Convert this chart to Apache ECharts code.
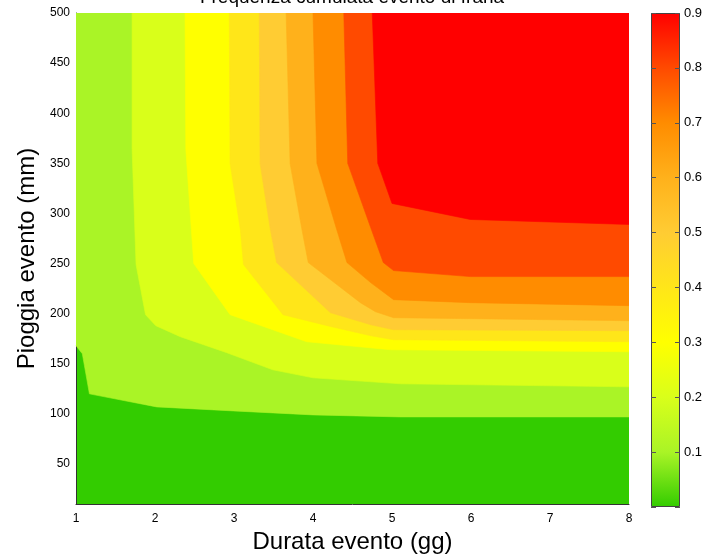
<!DOCTYPE html>
<html>
<head>
<meta charset="utf-8">
<script src="https://cdn.jsdelivr.net/npm/echarts@6/dist/echarts.min.js"></script>
<style>
  html, body { margin: 0; padding: 0; background: #fff; }
  #chart { width: 714px; height: 559px; }
</style>
</head>
<body>
<div id="chart"></div>
<script>
// curve di livello: [durata (gg), pioggia (mm)]
const curva0 = [[1, 168], [1.08, 160], [1.17, 120], [2.02, 107], [2.99, 103], [4, 99], [5.1, 97], [8, 97]]
const curva1 = [[1.71, 500], [1.71, 364], [1.76, 249], [1.88, 199], [2.01, 188], [2.32, 177], [2.91, 161], [3.49, 144], [4, 136], [5.11, 130], [8, 127]]
const curva2 = [[2.38, 500], [2.39, 364], [2.46, 284], [2.49, 250], [2.95, 199], [3.92, 172], [4.98, 164], [8, 162]]
const curva3 = [[2.94, 500], [2.95, 350], [3.08, 284], [3.12, 249], [3.62, 199], [4.18, 188], [4.73, 178], [5.02, 174], [8, 172]]
const curva4 = [[3.32, 500], [3.33, 350], [3.46, 284], [3.54, 251], [4.22, 201], [4.73, 189], [5.02, 184], [8, 183]]
const curva5 = [[3.66, 500], [3.71, 350], [3.86, 284], [3.94, 251], [4.6, 211], [4.79, 202], [5.02, 196], [8, 193]]
const curva6 = [[4, 500], [4.05, 350], [4.3, 284], [4.43, 251], [4.73, 231], [5.02, 214], [5.99, 211], [8, 208]]
const curva7 = [[4.39, 500], [4.44, 350], [4.73, 286], [4.89, 251], [5.02, 243], [5.99, 237], [8, 237]]
const curva8 = [[4.75, 500], [4.82, 350], [5, 310], [5.99, 294], [8, 289]]

const livelli = [0, 0.1, 0.2, 0.3, 0.4, 0.5, 0.6, 0.7, 0.8, 0.9]
const coloriLivelli = ['#33cc00', '#aaf426', '#d9ff1a', '#ffff00', '#ffe619', '#ffcc33', '#ffb11b', '#ff8c00', '#ff4a00', '#ff0000']
const yTicks = [50, 100, 150, 200, 250, 300, 350, 400, 450, 500]

const curve = [curva0, curva1, curva2, curva3, curva4, curva5, curva6, curva7, curva8]
const font = 'Liberation Sans, Arial, Helvetica, sans-serif'

const myChart = echarts.init(document.getElementById('chart'))

const series = curve.map((c, i) => {
  return {
    type: 'line',
    xAxisIndex: 0,
    yAxisIndex: 0,
    data: c,
    showSymbol: false,
    symbol: 'none',
    silent: true,
    lineStyle: { width: 0.6, color: coloriLivelli[i + 1] },
    areaStyle: { origin: 'end', color: coloriLivelli[i + 1], opacity: 1 }
  }
})

// barra dei colori a destra
const maxBarra = livelli[livelli.length - 1]
const stops = livelli.map((v, i) => {
  return { offset: 1 - v / maxBarra, color: coloriLivelli[i] }
}).reverse()

series.push({
  type: 'bar',
  xAxisIndex: 1,
  yAxisIndex: 1,
  data: [maxBarra],
  barWidth: '100%',
  silent: true,
  z: 1,
  itemStyle: {
    color: new echarts.graphic.LinearGradient(0, 0, 0, 1, stops),
    borderColor: '#444',
    borderWidth: 1
  }
})

const option = {
  animation: false,
  backgroundColor: '#fff',
  // titolo tagliato in alto come nell'originale
  graphic: [
    {
      type: 'text',
      x: 352,
      y: 7,
      silent: true,
      style: {
        text: 'Frequenza cumulata evento di frana',
        fontFamily: font,
        fontSize: 19,
        fill: '#000',
        align: 'center',
        verticalAlign: 'bottom'
      }
    }
  ],
  grid: [
    { left: 76, right: 85, top: 13, bottom: 53, show: true, backgroundColor: coloriLivelli[0], borderWidth: 0 },
    { left: 651, width: 29, top: 13, bottom: 52 }
  ],
  xAxis: [
    {
      gridIndex: 0,
      type: 'value',
      min: 1,
      max: 8,
      interval: 1,
      name: 'Durata evento (gg)',
      nameLocation: 'middle',
      nameGap: 21,
      nameTextStyle: { fontFamily: font, fontSize: 24, color: '#000' },
      axisLine: { show: true, onZero: false, lineStyle: { color: '#333' } },
      axisTick: { show: false },
      splitLine: { show: false },
      axisLabel: { fontFamily: font, fontSize: 12, color: '#000', margin: 9 }
    },
    {
      gridIndex: 1,
      type: 'category',
      data: ['c'],
      show: false
    }
  ],
  yAxis: [
    {
      gridIndex: 0,
      type: 'value',
      min: 10,
      max: 500,
      name: 'Pioggia evento (mm)',
      nameLocation: 'middle',
      nameGap: 36,
      nameTextStyle: { fontFamily: font, fontSize: 24, color: '#000' },
      axisLine: { show: true, onZero: false, lineStyle: { color: '#333' } },
      axisTick: { show: false, customValues: yTicks },
      splitLine: { show: false },
      axisLabel: { fontFamily: font, fontSize: 12, color: '#000', margin: 6, customValues: yTicks }
    },
    {
      gridIndex: 1,
      type: 'value',
      position: 'right',
      min: 0,
      max: maxBarra,
      interval: 0.1,
      z: 10,
      axisLine: { show: false },
      axisTick: { show: true, inside: true, length: 5, lineStyle: { color: '#555' } },
      splitLine: { show: false },
      axisLabel: {
        fontFamily: font,
        fontSize: 13,
        color: '#000',
        margin: 4,
        formatter: v => (v < 0.05 ? '' : v.toFixed(1))
      }
    },
    {
      gridIndex: 1,
      type: 'value',
      position: 'left',
      min: 0,
      max: maxBarra,
      interval: 0.1,
      z: 10,
      axisLine: { show: false },
      axisTick: { show: true, inside: true, length: 5, lineStyle: { color: '#555' } },
      axisLabel: { show: false },
      splitLine: { show: false }
    }
  ],
  series: series
}

myChart.setOption(option)
window.addEventListener('resize', () => { myChart.resize() })
</script>
</body>
</html>
